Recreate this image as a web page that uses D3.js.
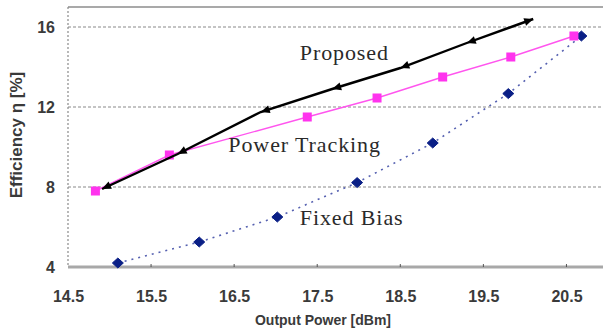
<!DOCTYPE html>
<html><head><meta charset="utf-8">
<script src="https://cdn.jsdelivr.net/npm/d3@7"></script>
<style>body{margin:0;background:#fff;}svg{display:block;}</style>
</head><body>
<svg id="c" width="603" height="329"></svg>
<script>
const proposedX = [14.91, 15.82, 16.82, 17.68, 18.50, 19.30, 20.10];
const proposedY = [7.9, 9.65, 11.75, 12.9, 13.95, 15.2, 16.4];
const trackingX = [14.83, 15.72, 17.38, 18.22, 19.01, 19.83, 20.59];
const trackingY = [7.8, 9.6, 11.5, 12.45, 13.5, 14.5, 15.55];
const fixedX = [15.10, 16.08, 17.02, 17.98, 18.89, 19.80, 20.68];
const fixedY = [4.2, 5.25, 6.5, 8.22, 10.2, 12.67, 15.55];
const xTicks = [14.5, 15.5, 16.5, 17.5, 18.5, 19.5, 20.5];
const yTicks = [4, 8, 12, 16];
const gridY = [8, 12, 16];
const labels = [
  {text: "Proposed", x: 17.29, y: 14.35},
  {text: "Power Tracking", x: 16.43, y: 9.75},
  {text: "Fixed Bias", x: 17.29, y: 6.1}
];

const svg = d3.select("#c");
const x = d3.scaleLinear().domain([14.5, 21]).range([68, 608]);
const y = d3.scaleLinear().domain([4, 17]).range([267, 7]);

// gridlines
svg.append("g").selectAll("line").data(gridY).join("line")
  .attr("x1", 68).attr("x2", 603).attr("y1", d => y(d)).attr("y2", d => y(d))
  .attr("stroke", "#8a8a8a").attr("stroke-width", 1.2).attr("stroke-dasharray", "3,2");

// top border
svg.append("line").attr("x1", 68).attr("x2", 603).attr("y1", y(17)).attr("y2", y(17))
  .attr("stroke", "#8c8c8c").attr("stroke-width", 1.5);
// left dotted axis
svg.append("line").attr("x1", 68).attr("x2", 68).attr("y1", y(17)).attr("y2", y(4))
  .attr("stroke", "#8a8a8a").attr("stroke-width", 1.2).attr("stroke-dasharray", "2,2");

// bottom axis
const xAxis = d3.axisBottom(x).tickValues(xTicks).tickSize(0).tickPadding(24).tickFormat(d3.format(".1f"));
const gx = svg.append("g").attr("transform", `translate(0,${y(4)})`).call(xAxis);
gx.select(".domain").remove();
gx.selectAll("text").attr("font-family", "Liberation Sans, Arial, sans-serif")
  .attr("font-size", 16).attr("font-weight", "bold").attr("fill", "#3a3a3a");
svg.append("line").attr("x1", 68).attr("x2", 603).attr("y1", y(4)).attr("y2", y(4))
  .attr("stroke", "#a8a8a8").attr("stroke-width", 3);
svg.append("g").selectAll("line").data(xTicks.slice(1)).join("line")
  .attr("x1", d => x(d)).attr("x2", d => x(d)).attr("y1", y(4) - 3).attr("y2", y(4))
  .attr("stroke", "#555").attr("stroke-width", 1);

// left axis labels
const yAxis = d3.axisLeft(y).tickValues(yTicks).tickSize(0).tickPadding(13);
const gy = svg.append("g").attr("transform", "translate(68,0)").call(yAxis);
gy.select(".domain").remove();
gy.selectAll("text").attr("font-family", "Liberation Sans, Arial, sans-serif")
  .attr("font-size", 16).attr("font-weight", "bold").attr("fill", "#3a3a3a");

// axis titles
svg.append("text").attr("x", 323).attr("y", 325).attr("text-anchor", "middle")
  .attr("font-family", "Liberation Sans, Arial, sans-serif").attr("font-size", 14)
  .attr("font-weight", "bold").attr("fill", "#3a3a3a").text("Output Power [dBm]");
svg.append("text").attr("transform", "translate(22,135) rotate(-90)").attr("text-anchor", "middle")
  .attr("font-family", "Liberation Sans, Arial, sans-serif").attr("font-size", 17)
  .attr("font-weight", "bold").attr("fill", "#3a3a3a").text("Efficiency η [%]");

const line = d3.line().x(d => x(d[0])).y(d => y(d[1]));

// Fixed Bias
const fixed = fixedX.map((v, i) => [v, fixedY[i]]);
svg.append("path").attr("d", line(fixed)).attr("fill", "none")
  .attr("stroke", "#5560b0").attr("stroke-width", 1.6).attr("stroke-dasharray", "2,5");
svg.append("g").selectAll("path").data(fixed).join("path")
  .attr("d", "M0,-5 L5.5,0 L0,5 L-5.5,0 Z")
  .attr("stroke", "#0a1f86").attr("stroke-width", 1).attr("stroke-linejoin", "round")
  .attr("transform", d => `translate(${x(d[0])},${y(d[1])})`).attr("fill", "#0a1f86");

// Power tracking
const track = trackingX.map((v, i) => [v, trackingY[i]]);
svg.append("path").attr("d", line(track)).attr("fill", "none")
  .attr("stroke", "#ff55ee").attr("stroke-width", 1.4);
svg.append("g").selectAll("rect").data(track).join("rect")
  .attr("x", d => x(d[0]) - 4.5).attr("y", d => y(d[1]) - 4.5).attr("width", 9).attr("height", 9)
  .attr("fill", "#ff33ee");

// Proposed
const prop = proposedX.map((v, i) => [v, proposedY[i]]);
svg.append("path").attr("d", line(prop)).attr("fill", "none")
  .attr("stroke", "#000").attr("stroke-width", 2.4);
svg.append("g").selectAll("path").data(prop).join("path")
  .attr("d", "M0,0 L9,-4 L9,4 Z")
  .attr("transform", (d, i) => {
    const a = i < prop.length - 1 ? prop[i + 1] : prop[i - 1];
    const ang = Math.atan2(y(a[1]) - y(d[1]), x(a[0]) - x(d[0])) * 180 / Math.PI;
    return `translate(${x(d[0])},${y(d[1])}) rotate(${ang})`;
  })
  .attr("fill", "#000");

// labels
svg.append("g").selectAll("text").data(labels).join("text")
  .attr("x", d => x(d.x)).attr("y", d => y(d.y))
  .attr("font-family", "Liberation Serif, Times New Roman, serif").attr("font-size", 22)
  .attr("letter-spacing", 0.9)
  .attr("fill", "#2a2a2a").text(d => d.text);
</script>
</body></html>
